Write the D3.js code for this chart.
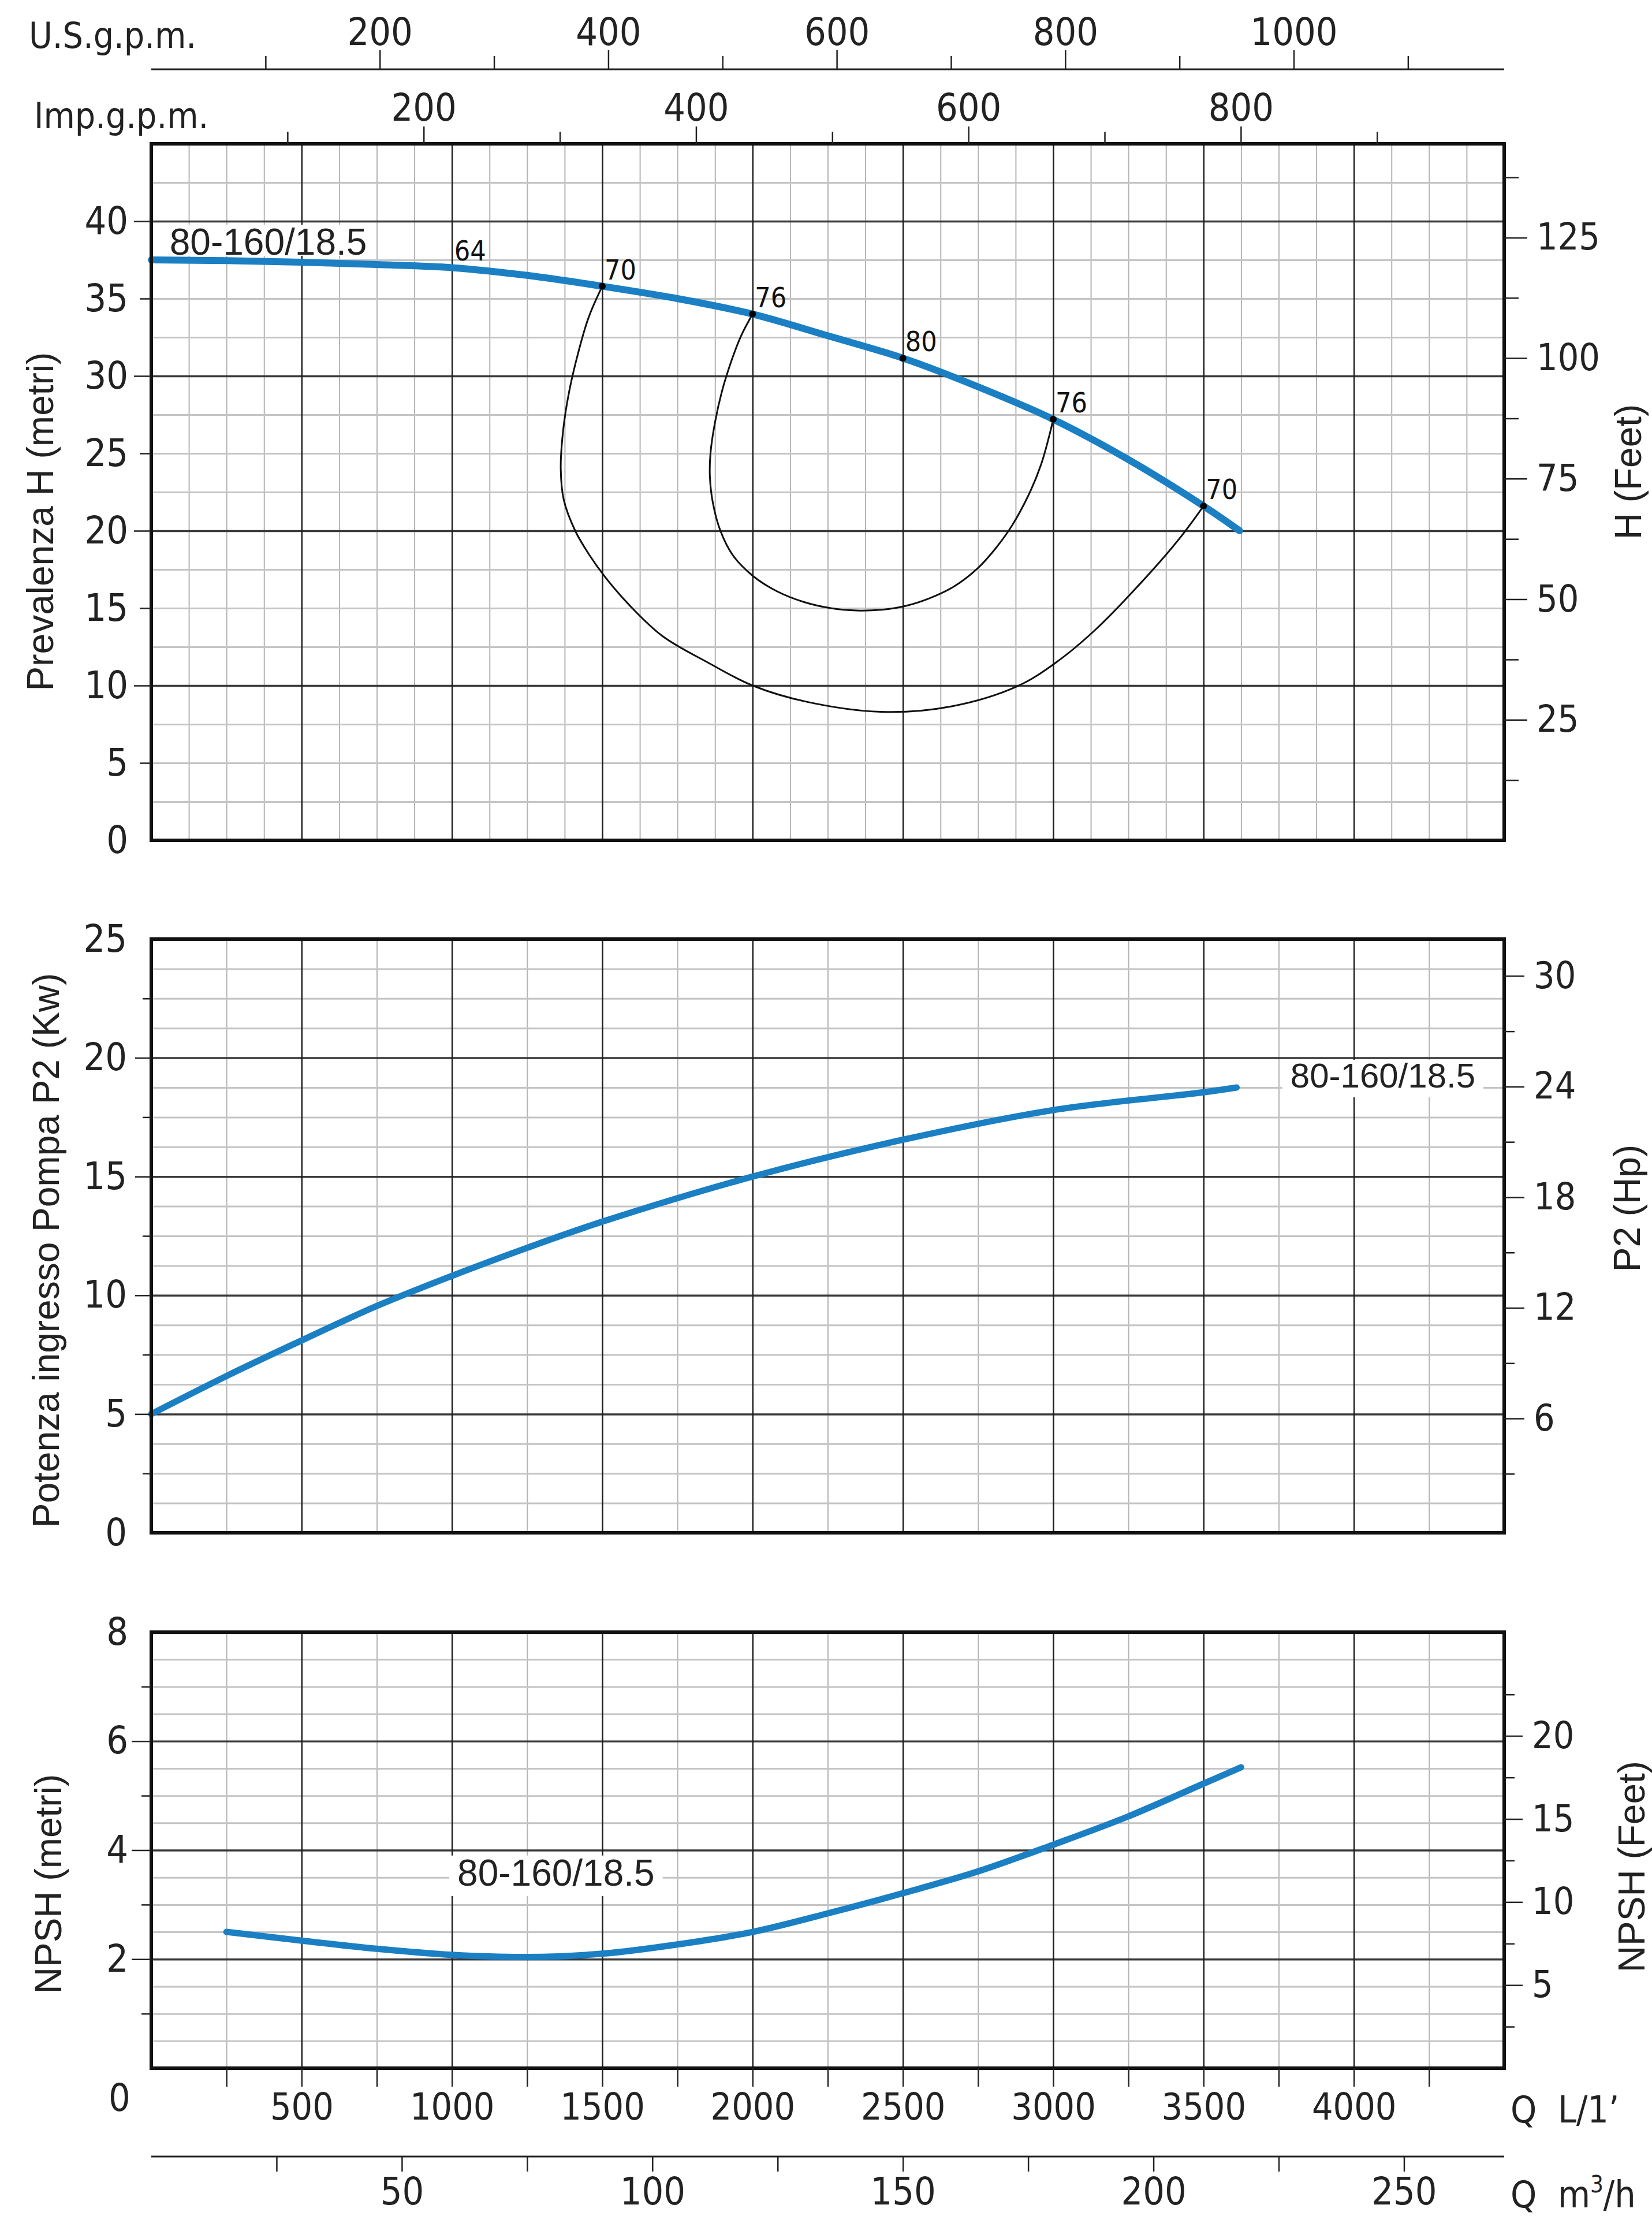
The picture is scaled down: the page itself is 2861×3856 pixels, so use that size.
<!DOCTYPE html>
<html><head><meta charset="utf-8">
<script src="https://cdn.jsdelivr.net/npm/d3@7"></script>
<style>
html,body{margin:0;padding:0;background:#fff;}
svg{display:block;}
</style></head><body>
<svg id="c" width="2861" height="3856"></svg>
<script>
// ---------------- DATA ----------------
// Head curve  (Q in L/min, H in metres)
const headQ = [0,250,500,750,1000,1250,1500,1750,2000,2250,2500,2750,3000,3250,3500,3620];
const headM = [37.5,37.45,37.35,37.2,37.0,36.5,35.8,35.0,34.0,32.6,31.15,29.3,27.2,24.6,21.6,20.0];
// efficiency points on the head curve
const effQ = [1500,2000,2500,3000,3500];
const effH = [35.8,34.0,31.15,27.2,21.6];
const effLabels = ["70","76","80","76","70"];
const eff64Q = [1000], eff64H = [37.0], eff64Label = ["64"];
// iso-efficiency 70% contour
const iso70Q = [1500,1455,1420,1390,1370,1362,1372,1410,1455,1510,1590,1700,1850,2000,2180,2430,2660,2880,3010,3140,3290,3420,3500];
const iso70H = [35.8,33.8,31.5,29.0,26.5,24.0,22.0,20.0,18.5,17.0,15.2,13.2,11.5,10.0,8.95,8.3,8.65,9.95,11.5,13.6,16.6,19.5,21.6];
// iso-efficiency 76% contour
const iso76Q = [2000,1962,1930,1898,1875,1860,1858,1868,1893,1935,2000,2080,2170,2260,2345,2430,2510,2590,2670,2750,2810,2865,2925,2960,2985,3000];
const iso76H = [34.0,32.6,31.0,29.0,27.0,25.0,23.5,21.8,20.0,18.4,17.1,16.1,15.4,15.0,14.85,14.9,15.15,15.65,16.4,17.6,18.9,20.4,22.6,24.3,26.0,27.2];
// Power P2 (kW)
const powerQ = [0,250,500,750,1000,1250,1500,2000,2500,3000,3500,3610];
const powerKW = [5.0,6.6,8.1,9.55,10.82,12.0,13.1,15.0,16.55,17.8,18.55,18.75];
// NPSH (m)
const npshQ = [250,500,750,1000,1250,1500,1750,2000,2250,2500,2750,3000,3250,3500,3625];
const npshM = [2.5,2.34,2.19,2.08,2.04,2.1,2.27,2.5,2.84,3.21,3.61,4.1,4.62,5.22,5.52];
// tick labels
const qTickLabels = [500,1000,1500,2000,2500,3000,3500,4000];
const m3hTickLabels = [50,100,150,200,250];
const usTickLabels = [200,400,600,800,1000];
const impTickLabels = [200,400,600,800];
const headTickLabels = [0,5,10,15,20,25,30,35,40];
const headFtTickLabels = [25,50,75,100,125];
const powerTickLabels = [0,5,10,15,20,25];
const hpTickLabels = [6,12,18,24,30];
const npshTickLabels = [2,4,6,8];
const npshFtTickLabels = [5,10,15,20];
const productName = "80-160/18.5";
// unit conversions
const usFactor = 3.8, impFactor = 4.53, m3hFactor = 16.667;
const ftPerMHead = 3.21, ftPerMNpsh = 3.281;

// ---------------- LAYOUT ----------------
const svg = d3.select("#c");
const X0 = 262, X1 = 2605;
const BLUE = "#1b7fc3";
const TICKFONT = "'Liberation Sans Narrow','DejaVu Sans Condensed','Arial Narrow',sans-serif";
const CONDFONT = "'DejaVu Sans Condensed','DejaVu Sans',sans-serif";
const SANS = "'Liberation Sans',Arial,Helvetica,sans-serif";
const fmt = d3.format("d");

const x = d3.scaleLinear([0,4500],[X0,X1]);
const P = {
  head:{top:249,bottom:1455,max:45},
  power:{top:1626,bottom:2654,max:25},
  npsh:{top:2826,bottom:3581,max:8}
};
const yH = d3.scaleLinear([0,P.head.max],[P.head.bottom,P.head.top]);
const yP = d3.scaleLinear([0,P.power.max],[P.power.bottom,P.power.top]);
const yN = d3.scaleLinear([0,P.npsh.max],[P.npsh.bottom,P.npsh.top]);
const yHft = d3.scaleLinear([0,P.head.max*ftPerMHead],[P.head.bottom,P.head.top]);
const yPhp = d3.scaleLinear([-0.2,32],[P.power.bottom,P.power.top]);
const yNft = d3.scaleLinear([0,P.npsh.max*ftPerMNpsh],[P.npsh.bottom,P.npsh.top]);
const xUS = d3.scaleLinear([0,4500/usFactor],[X0,X1]);
const xImp = d3.scaleLinear([0,4500/impFactor],[X0,X1]);
const xM3 = d3.scaleLinear([0,4500/m3hFactor],[X0,X1]);

function near(v,step){ return Math.abs(v/step - Math.round(v/step)) < 1e-6; }

function gridLines(p, y, vMinor, vMajor, hMinor, hMajor){
  const g = svg.append("g");
  const h = p.bottom - p.top, w = X1 - X0;
  const vAll = d3.range(vMinor, 4500-1e-6, vMinor);
  const hAll = d3.range(hMinor, p.max-1e-6, hMinor);
  const styleAxis = (sel, color, width) => {
    sel.select(".domain").remove();
    sel.selectAll(".tick line").attr("stroke",color).attr("stroke-width",width);
    sel.selectAll(".tick text").remove();
  };
  g.append("g").attr("transform",`translate(0,${p.bottom})`)
    .call(d3.axisBottom(x).tickValues(vAll.filter(v=>!near(v,vMajor))).tickSize(-h).tickFormat(""))
    .call(s=>styleAxis(s,"#b4b4b4",2));
  g.append("g").attr("transform",`translate(${X0},0)`)
    .call(d3.axisLeft(y).tickValues(hAll.filter(v=>!near(v,hMajor))).tickSize(-w).tickFormat(""))
    .call(s=>styleAxis(s,"#c4c4c4",3));
  g.append("g").attr("transform",`translate(${X0},0)`)
    .call(d3.axisLeft(y).tickValues(hAll.filter(v=>near(v,hMajor))).tickSize(-w).tickFormat(""))
    .call(s=>styleAxis(s,"#3a3a3a",3.5));
  g.append("g").attr("transform",`translate(0,${p.bottom})`)
    .call(d3.axisBottom(x).tickValues(vAll.filter(v=>near(v,vMajor))).tickSize(-h).tickFormat(""))
    .call(s=>styleAxis(s,"#1e1e1e",2.5));
}
gridLines(P.head, yH, 125, 500, 2.5, 10);
gridLines(P.power, yP, 250, 500, 1.25, 5);
gridLines(P.npsh, yN, 250, 500, 0.5, 2);

// ---------------- CURVES ----------------
const smooth = d3.curveCatmullRom.alpha(0.5);
const lineH = d3.line().x(d=>x(d[0])).y(d=>yH(d[1])).curve(smooth);
const lineP = d3.line().x(d=>x(d[0])).y(d=>yP(d[1])).curve(smooth);
const lineN = d3.line().x(d=>x(d[0])).y(d=>yN(d[1])).curve(smooth);
const lineIso = d3.line().x(d=>x(d[0])).y(d=>yH(d[1])).curve(smooth);

svg.append("path").attr("d", lineIso(d3.zip(iso70Q, iso70H)))
  .attr("fill","none").attr("stroke","#111").attr("stroke-width",3);
svg.append("path").attr("d", lineIso(d3.zip(iso76Q, iso76H)))
  .attr("fill","none").attr("stroke","#111").attr("stroke-width",3);

// product labels with white background
function productLabel(px, py, size, fullBox){
  const g = svg.append("g");
  const t = g.append("text").attr("x",px).attr("y",py).attr("font-family",SANS).attr("font-size",size).attr("fill","#222").text(productName);
  const b = t.node().getBBox();
  const y0 = b.y + 6, y1 = fullBox ? b.y + b.height + 4 : py + 2;
  g.insert("rect","text").attr("x",b.x-14).attr("y",y0).attr("width",b.width+28).attr("height",y1-y0).attr("fill","#fff");
}
productLabel(x(61), yH(37.83), 64, false);
productLabel(x(3789), yP(18.75), 60, true);
productLabel(x(1018), yN(3.35), 64, true);

svg.append("path").attr("d", lineH(d3.zip(headQ, headM)))
  .attr("fill","none").attr("stroke",BLUE).attr("stroke-width",12).attr("stroke-linecap","round");
svg.append("path").attr("d", lineP(d3.zip(powerQ, powerKW)))
  .attr("fill","none").attr("stroke",BLUE).attr("stroke-width",11).attr("stroke-linecap","round");
svg.append("path").attr("d", lineN(d3.zip(npshQ, npshM)))
  .attr("fill","none").attr("stroke",BLUE).attr("stroke-width",11).attr("stroke-linecap","round");

// efficiency markers & labels
const effData = d3.zip(effQ, effH, effLabels);
svg.append("g").selectAll("circle").data(effData).join("circle")
  .attr("cx",d=>x(d[0])).attr("cy",d=>yH(d[1])).attr("r",6).attr("fill","#000");
svg.append("g").selectAll("text").data(effData.concat(d3.zip(eff64Q,eff64H,eff64Label))).join("text")
  .attr("x",d=>x(d[0])+4).attr("y",d=>yH(d[1])-12)
  .attr("font-family",CONDFONT).attr("font-size",48).attr("fill","#111").text(d=>d[2]);

// ---------------- FRAMES ----------------
for (const p of [P.head,P.power,P.npsh]) {
  svg.append("rect").attr("x",X0).attr("y",p.top).attr("width",X1-X0).attr("height",p.bottom-p.top)
    .attr("fill","none").attr("stroke","#111").attr("stroke-width",6);
}

// ---------------- AXES ----------------
function styleTicks(sel, font, size, width){
  sel.select(".domain").remove();
  sel.selectAll(".tick line").attr("stroke","#222").attr("stroke-width",width||2.5);
  sel.selectAll(".tick text").attr("font-family",font).attr("font-size",size).attr("fill","#222");
}
// left axes
function leftAxis(y, labels, longVals, longLen, shortVals, shortLen, pad){
  svg.append("g").attr("transform",`translate(${X0},0)`)
    .call(d3.axisLeft(y).tickValues(longVals).tickSize(longLen).tickFormat(""))
    .call(s=>styleTicks(s,TICKFONT,64));
  svg.append("g").attr("transform",`translate(${X0},0)`)
    .call(d3.axisLeft(y).tickValues(shortVals).tickSize(shortLen).tickFormat(""))
    .call(s=>styleTicks(s,TICKFONT,64));
  svg.append("g").attr("transform",`translate(${X0},0)`)
    .call(d3.axisLeft(y).tickValues(labels).tickSize(0).tickPadding(pad).tickFormat(fmt))
    .call(s=>styleTicks(s,TICKFONT,66));
}
leftAxis(yH, headTickLabels, [10,20,30,40], 30, [5,15,25,35], 20, 40);
leftAxis(yP, powerTickLabels, [5,10,15,20], 28, [2.5,7.5,12.5,17.5,22.5], 15, 42);
leftAxis(yN, npshTickLabels, [2,4,6], 34, [1,3,5,7], 17, 40);
// NPSH "0" label sits below the frame
svg.append("text").attr("x",X0-55).attr("y",yN(0)+74).attr("text-anchor","middle")
  .attr("font-family",TICKFONT).attr("font-size",66).attr("fill","#222").text("0");

// right axes
function rightAxis(y, labels, shortVals, longLen, shortLen){
  svg.append("g").attr("transform",`translate(${X1},0)`)
    .call(d3.axisRight(y).tickValues(shortVals).tickSize(shortLen).tickFormat(""))
    .call(s=>styleTicks(s,TICKFONT,64));
  svg.append("g").attr("transform",`translate(${X1},0)`)
    .call(d3.axisRight(y).tickValues(labels).tickSize(longLen).tickPadding(16).tickFormat(fmt))
    .call(s=>styleTicks(s,TICKFONT,64));
}
rightAxis(yHft, headFtTickLabels, [12.5,37.5,62.5,87.5,112.5,137.5], 40, 25);
rightAxis(yPhp, hpTickLabels, [3,9,15,21,27], 35, 18);
rightAxis(yNft, npshFtTickLabels, [2.5,7.5,12.5,17.5,22.5], 32, 18);

// top axes
const US_Y = 120;
svg.append("line").attr("x1",X0).attr("x2",X1).attr("y1",US_Y).attr("y2",US_Y).attr("stroke","#222").attr("stroke-width",3);
svg.append("g").attr("transform",`translate(0,${US_Y})`)
  .call(d3.axisTop(xUS).tickValues([100,300,500,700,900,1100]).tickSize(23).tickFormat(""))
  .call(s=>styleTicks(s,TICKFONT,64));
svg.append("g").attr("transform",`translate(0,${US_Y})`)
  .call(d3.axisTop(xUS).tickValues(usTickLabels).tickSize(33).tickPadding(9).tickFormat(fmt))
  .call(s=>styleTicks(s,TICKFONT,66));
svg.append("g").attr("transform",`translate(0,${P.head.top})`)
  .call(d3.axisTop(xImp).tickValues([100,300,500,700,900]).tickSize(21).tickFormat(""))
  .call(s=>styleTicks(s,TICKFONT,64));
svg.append("g").attr("transform",`translate(0,${P.head.top})`)
  .call(d3.axisTop(xImp).tickValues(impTickLabels).tickSize(30).tickPadding(10).tickFormat(fmt))
  .call(s=>styleTicks(s,TICKFONT,66));
svg.append("text").attr("x",50).attr("y",83).attr("font-family",CONDFONT).attr("font-size",62).attr("fill","#222").text("U.S.g.p.m.");
svg.append("text").attr("x",59).attr("y",222).attr("font-family",CONDFONT).attr("font-size",62).attr("fill","#222").text("Imp.g.p.m.");

// bottom axes
svg.append("g").attr("transform",`translate(0,${P.npsh.bottom})`)
  .call(d3.axisBottom(x).tickValues(d3.range(250,4500,250)).tickSize(32).tickFormat(""))
  .call(s=>styleTicks(s,CONDFONT,64));
svg.append("g").attr("transform",`translate(0,${P.npsh.bottom})`)
  .call(d3.axisBottom(x).tickValues(qTickLabels).tickSize(0).tickPadding(44).tickFormat(fmt))
  .call(s=>styleTicks(s,CONDFONT,64));
const M3_Y = 3734;
svg.append("line").attr("x1",X0).attr("x2",X1).attr("y1",M3_Y).attr("y2",M3_Y).attr("stroke","#222").attr("stroke-width",3);
svg.append("g").attr("transform",`translate(0,${M3_Y})`)
  .call(d3.axisBottom(xM3).tickValues(d3.range(25,270,25)).tickSize(26).tickFormat(""))
  .call(s=>styleTicks(s,TICKFONT,64));
svg.append("g").attr("transform",`translate(0,${M3_Y})`)
  .call(d3.axisBottom(xM3).tickValues(m3hTickLabels).tickSize(0).tickPadding(36).tickFormat(fmt))
  .call(s=>styleTicks(s,TICKFONT,66));
svg.append("text").attr("x",2616).attr("y",3675).attr("font-family",CONDFONT).attr("font-size",64).attr("fill","#222")
  .attr("xml:space","preserve").style("white-space","pre").text("Q  L/1’");
const qm = svg.append("text").attr("x",2616).attr("y",3822).attr("font-family",CONDFONT).attr("font-size",64).attr("fill","#222")
  .style("white-space","pre");
qm.append("tspan").text("Q  m");
qm.append("tspan").attr("font-size",40).attr("dy",-26).text("3");
qm.append("tspan").attr("dy",26).text("/h");

// axis titles
function vTitle(cx, cy, txt){
  svg.append("text").attr("transform",`translate(${cx},${cy}) rotate(-90)`)
    .attr("text-anchor","middle").attr("dominant-baseline","central")
    .attr("font-family",SANS).attr("font-size",64).attr("fill","#222").text(txt);
}
vTitle(70, 903, "Prevalenza H (metri)");
vTitle(80, 2165, "Potenza ingresso Pompa P2 (Kw)");
vTitle(84, 3262, "NPSH (metri)");
vTitle(2820, 817, "H (Feet)");
vTitle(2818, 2092, "P2 (Hp)");
vTitle(2826, 3232, "NPSH (Feet)");
</script>
</body></html>
